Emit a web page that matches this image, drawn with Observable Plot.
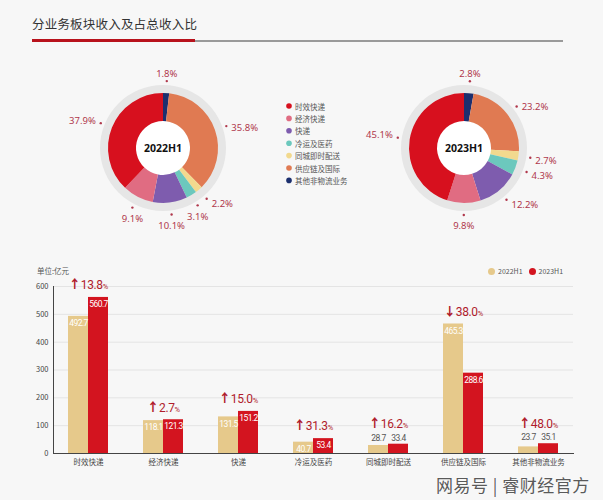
<!DOCTYPE html>
<html><head><meta charset="utf-8">
<script src="https://cdn.jsdelivr.net/npm/d3@7"></script>
<script src="https://cdn.jsdelivr.net/npm/@observablehq/plot@0.6"></script>
<style>
body{margin:0;background:#f7f7f7;font-family:"Noto Sans CJK SC","Noto Sans",sans-serif;}
#page{position:relative;width:603px;height:500px;overflow:hidden;background:#f7f7f7;}
#title{position:absolute;left:32px;top:14px;font-size:12.5px;color:#333;letter-spacing:0.2px;}
#grayline{position:absolute;left:32px;top:40px;width:531px;height:1.5px;background:#9a9a9a;}
#redline{position:absolute;left:32px;top:39px;width:163px;height:3px;background:#b8121c;}
#donuts{position:absolute;left:0;top:55px;}
#bars{position:absolute;left:0;top:255px;}
#unit{position:absolute;left:37px;top:265px;font-size:7.5px;color:#555;}
#barlegend{position:absolute;left:488px;top:266px;font-size:7px;color:#555;display:flex;align-items:center;}
#barlegend span.dot{display:inline-block;width:7px;height:7px;border-radius:50%;margin-right:3px;}
#barlegend span.lab{margin-right:6px;}
#mark{position:absolute;left:436px;top:472px;font-size:17px;color:#5a5a5a;letter-spacing:0.5px;text-shadow:0 0 2px #fff;}
</style></head><body><div id="page">
<div id="title">分业务板块收入及占总收入比</div>
<div id="grayline"></div><div id="redline"></div>
<div id="donuts"></div>
<div id="bars"></div>
<div id="unit">单位:亿元</div>
<div id="barlegend"></div>
<div id="mark">网易号 | 睿财经官方</div>
</div>
<script>
// ---- data ----
const categories = ["时效快递","经济快递","快递","冷运及医药","同城即时配送","供应链及国际","其他非物流业务"];
const years = ["2022H1","2023H1"];
const share2022 = [37.9, 9.1, 10.1, 3.1, 2.2, 35.8, 1.8];
const share2023 = [45.1, 9.8, 12.2, 4.3, 2.7, 23.2, 2.8];
const revenue2022 = [492.7, 118.1, 131.5, 40.7, 28.7, 465.3, 23.7];
const revenue2023 = [560.7, 121.3, 151.2, 53.4, 33.4, 288.6, 35.1];
const changePct = [13.8, 2.7, 15.0, 31.3, 16.2, -38.0, 48.0];
const yTicks = [0, 100, 200, 300, 400, 500, 600];
const sliceColors = ["#d7101e","#e06c82","#7e5cae","#6cc8bd","#f2d98e","#e07a52","#1c2f6e"];
const yearColors = ["#e6c98b","#d3141f"];
const pctColor = "#b0384c";

// ---- donuts ----
function donutMark(shares, year, cx, cy) {
  return () => {
    const g = d3.create("svg:g");
    const order = d3.range(categories.length).reverse();
    const arcs = d3.pie().sort(null).value(i => shares[i]).startAngle(0).endAngle(2 * Math.PI)(order);
    g.append("path").attr("transform", `translate(${cx},${cy})`)
      .attr("d", d3.arc()({innerRadius: 54, outerRadius: 63, startAngle: 0, endAngle: 2 * Math.PI}))
      .attr("fill", "#e6e6e6");
    g.append("circle").attr("cx", cx).attr("cy", cy).attr("r", 27).attr("fill", "#fff");
    const arc = d3.arc().innerRadius(27).outerRadius(55);
    g.selectAll("path.s").data(arcs).join("path").attr("class", "s")
      .attr("transform", `translate(${cx},${cy})`)
      .attr("d", arc).attr("fill", d => sliceColors[d.data]);
    g.append("text").attr("x", cx).attr("y", cy).attr("text-anchor", "middle")
      .attr("dominant-baseline", "central").attr("font-size", 10.5).attr("font-weight", 700)
      .attr("fill", "#111").attr("font-family", "'Noto Sans','Noto Sans CJK SC',sans-serif").text(year);
    for (const a of arcs) {
      const m = (a.startAngle + a.endAngle) / 2, s = Math.sin(m), c = Math.cos(m);
      const x = cx + 67 * s, y = cy - 67 * c;
      g.append("circle").attr("cx", x).attr("cy", y).attr("r", 1.2).attr("fill", pctColor);
      let anchor = "middle", tx = x, ty = y;
      if (s > 0.6) { anchor = "start"; tx = x + 5; ty = y + 2 - 3 * c; }
      else if (s < -0.6) { anchor = "end"; tx = x - 5; ty = y - 3; }
      else { ty = c > 0 ? y - 8 : y + 11; }
      g.append("text").attr("x", tx).attr("y", ty).attr("text-anchor", anchor)
        .attr("dominant-baseline", "central").attr("font-size", 9.5).attr("fill", pctColor)
        .attr("font-family", "'Noto Sans',sans-serif")
        .text(shares[a.data].toFixed(1) + "%");
    }
    return g.node();
  };
}
function legendMark(x0, y0, step) {
  return () => {
    const g = d3.create("svg:g");
    categories.forEach((c, i) => {
      g.append("circle").attr("cx", x0).attr("cy", y0 + i * step).attr("r", 2.8).attr("fill", sliceColors[i]);
      g.append("text").attr("x", x0 + 6).attr("y", y0 + i * step).attr("dominant-baseline", "central")
        .attr("text-anchor", "start")
        .attr("font-size", 7.5).attr("fill", "#555").text(c);
    });
    return g.node();
  };
}
const donutSvg = Plot.plot({
  width: 603, height: 200, margin: 0,
  style: {background: "transparent", fontFamily: "'Noto Sans CJK SC',sans-serif"},
  marks: [
    donutMark(share2022, years[0], 163, 93),
    donutMark(share2023, years[1], 464, 93),
    legendMark(289, 51, 12.4)
  ]
});
document.getElementById("donuts").append(donutSvg);

// ---- bars ----
const rows = categories.flatMap((c, i) => {
  const mx = Math.max(revenue2022[i], revenue2023[i]);
  return [
    {cat: c, year: years[0], value: revenue2022[i], groupMax: mx},
    {cat: c, year: years[1], value: revenue2023[i], groupMax: mx}
  ];
});
const changes = categories.map((c, i) => {
  const mx = Math.max(revenue2022[i], revenue2023[i]);
  const small = Math.min(revenue2022[i], revenue2023[i]) < 38;
  return {cat: c, y: mx, pct: changePct[i], small};
});
const r0 = rows.filter(d => d.year === years[0]);
const r1 = rows.filter(d => d.year === years[1]);
const numFont = "'Roboto','Noto Sans',sans-serif";
const valOpts = {fontSize: 8.5, fontFamily: numFont, text: d => d.value.toFixed(1)};
const chgText = d => (d.pct < 0 ? "↓" : "↑") + Math.abs(d.pct).toFixed(1);
const chgOpts = {x: "cat", y: "y", text: chgText, fill: "#b01c2c", fontSize: 12, fontFamily: numFont};
const barSvg = Plot.plot({
  width: 603, height: 223,
  marginTop: 31, marginBottom: 25, marginLeft: 53, marginRight: 30,
  style: {background: "transparent", fontFamily: "'Noto Sans CJK SC',sans-serif", fontSize: "7.5px", color: "#444"},
  x: {domain: categories, paddingInner: 0.47, paddingOuter: 0.18, label: null, tickSize: 0, tickPadding: 6, line: true},
  y: {domain: [0, 600], ticks: yTicks, label: null, tickSize: 0, tickPadding: 5, grid: true, line: true},
  marks: [
    Plot.barY(r0, {x: "cat", y: "value", fill: yearColors[0], insetRight: 20}),
    Plot.barY(r1, {x: "cat", y: "value", fill: yearColors[1], insetLeft: 20}),
    Plot.text(r0.filter(d => d.value > 38), {...valOpts, x: "cat", y: "value", dx: -10, dy: 7, fill: "#fff"}),
    Plot.text(r1.filter(d => d.value > 38), {...valOpts, x: "cat", y: "value", dx: 10, dy: 7, fill: "#fff"}),
    Plot.text(r0.filter(d => d.value <= 38), {...valOpts, x: "cat", y: "groupMax", dx: -10, dy: -6, fill: "#555"}),
    Plot.text(r1.filter(d => d.value <= 38), {...valOpts, x: "cat", y: "groupMax", dx: 10, dy: -6, fill: "#555"}),
    Plot.text(changes.filter(d => !d.small), {...chgOpts, dy: -12}),
    Plot.text(changes.filter(d => d.small), {...chgOpts, dy: -20})
  ]
});
document.getElementById("bars").append(barSvg);
// condensed look for value labels
d3.select(barSvg).selectAll("text").filter(function() {
  return /^\d+\.\d$/.test(this.textContent);
}).attr("letter-spacing", "-0.55");
// change labels: bold arrow, small %
d3.select(barSvg).selectAll("text").filter(function() {
  const s = this.textContent; return s[0] === "↑" || s[0] === "↓";
}).each(function() {
  const t = d3.select(this);
  const s = t.text();
  t.text("");
  t.append("tspan").attr("font-weight", 900).attr("font-family", "'Noto Sans CJK SC',sans-serif").text(s[0]);
  t.append("tspan").attr("letter-spacing", "-0.4").text(s.slice(1));
  t.append("tspan").attr("font-size", 7.5).text("%");
});

// bar legend
const bl = d3.select("#barlegend");
years.forEach((y, i) => {
  bl.append("span").attr("class", "dot").style("background", yearColors[i]);
  bl.append("span").attr("class", "lab").text(y);
});
</script>
</body></html>
